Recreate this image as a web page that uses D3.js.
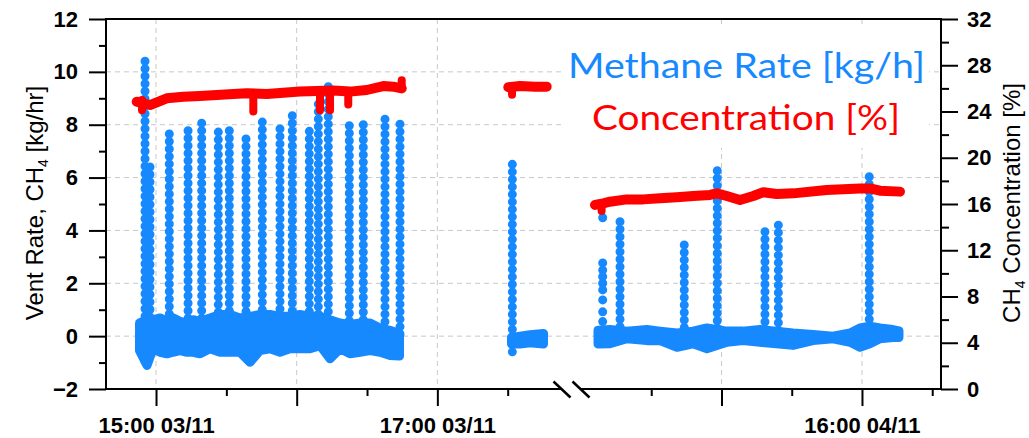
<!DOCTYPE html>
<html>
<head>
<meta charset="utf-8">
<script src="https://cdn.jsdelivr.net/npm/d3@7"></script>
<style>
  body { margin: 0; background: #fff; }
  svg { display: block; }
</style>
</head>
<body>
<svg id="chart" width="1029" height="438"></svg>
<script>
// ---- data ----

// time axis with a break between the two days
const xDomain = ["03/11 14:38:40", "03/11 17:53:10", "04/11 14:00:00", "04/11 16:33:45"];
const majorTimes = ["03/11 15:00:00", "03/11 16:00:00", "03/11 17:00:00", "04/11 15:00:00", "04/11 16:00:00"];
const majorLabels = ["15:00 03/11", "", "17:00 03/11", "", "16:00 04/11"];
const minorTimes = ["03/11 15:30:00", "03/11 16:30:00", "03/11 17:30:00", "04/11 14:30:00", "04/11 15:30:00", "04/11 16:30:00"];

// y ticks
const leftTicks = [-2, 0, 2, 4, 6, 8, 10, 12];
const leftMinor = [-1, 1, 3, 5, 7, 9, 11];
const leftGrid = [0, 2, 4, 6, 8, 10];
const rightTicks = [0, 4, 8, 12, 16, 20, 24, 28, 32];
const rightMinor = [2, 6, 10, 14, 18, 22, 26, 30];

// methane rate, noisy band around zero (upper / lower envelope)
const bandLeftT = ["14:52:58", "14:56:10", "14:58:43", "15:01:43", "15:04:41", "15:07:15", "15:10:14", "15:13:13", "15:15:47",
  "15:18:46", "15:23:02", "15:27:18", "15:31:34", "15:35:50", "15:40:05", "15:44:22", "15:48:37", "15:52:53", "15:57:09",
  "16:01:25", "16:05:41", "16:09:57", "16:14:13", "16:18:29", "16:22:45", "16:27:01", "16:31:17", "16:35:32", "16:39:49", "16:43:52"];
const bandLeftHi = [0.50, 0.62, 0.62, 0.69, 0.56, 0.69, 0.56, 0.50, 0.62, 0.56, 0.69, 0.82, 0.82, 0.69, 0.75, 0.82, 0.82, 0.75, 0.75,
  0.82, 0.75, 0.75, 0.62, 0.50, 0.44, 0.50, 0.50, 0.31, 0.22, 0.10];
const bandLeftLo = [-0.55, -1.11, -0.48, -0.61, -0.67, -0.61, -0.55, -0.61, -0.61, -0.67, -0.48, -0.61, -0.61, -0.61, -0.99, -0.55, -0.48, -0.61, -0.48,
  -0.48, -0.48, -0.36, -0.86, -0.48, -0.67, -0.61, -0.55, -0.61, -0.73, -0.75];

const bandMidT = ["17:31:38", "17:35:16", "17:39:32", "17:45:17"];
const bandMidHi = [-0.05, 0.0, 0.05, 0.1];
const bandMidLo = [-0.3, -0.3, -0.25, -0.3];

const bandRightT = ["14:07:16", "14:12:22", "14:19:36", "14:28:11", "14:33:43", "14:41:00", "14:47:50", "14:53:48", "15:02:21", "15:09:11",
  "15:16:26", "15:30:32", "15:39:04", "15:47:37", "15:54:56", "15:59:09", "16:03:25", "16:07:41", "16:13:14", "16:15:48"];
const bandRightHi = [0.22, 0.25, 0.19, 0.25, 0.19, 0.12, 0.19, 0.31, 0.19, 0.19, 0.25, 0.12, 0.06, 0.00, 0.12, 0.31, 0.38, 0.31, 0.25, 0.20];
const bandRightLo = [-0.30, -0.29, -0.10, -0.17, -0.17, -0.42, -0.29, -0.48, -0.23, -0.17, -0.23, -0.35, -0.17, -0.10, -0.23, -0.42, -0.29, -0.10, -0.05, -0.05];

// methane rate, venting spikes (column of points from base up to top)
const spikeT = ["03/11 14:55:19", "03/11 14:57:26", "03/11 15:05:40", "03/11 15:13:40", "03/11 15:19:29", "03/11 15:26:34", "03/11 15:31:16",
  "03/11 15:38:23", "03/11 15:45:20", "03/11 15:52:53", "03/11 15:58:08", "03/11 16:05:23", "03/11 16:09:14", "03/11 16:13:29",
  "03/11 16:22:27", "03/11 16:28:25", "03/11 16:37:40", "03/11 16:44:04",
  "03/11 17:31:59",
  "04/11 14:16:40", "04/11 14:44:06", "04/11 14:58:12", "04/11 15:18:34", "04/11 15:24:17", "04/11 16:03:07"];
const spikeTop = [10.4, 6.4, 7.65, 7.77, 8.06, 7.72, 7.77, 7.46, 8.1, 7.84, 8.34, 7.75, 8.78, 9.44, 7.96, 8.0, 8.21, 8.02,
  6.5,
  4.33, 3.45, 6.26, 3.95, 4.2, 6.03];
const spikeBase = [-1.0, 0, 0, 0, 0, 0, 0, 0, 0, 0, 0, 0, 0, 0, 0, 0, 0, 0,
  -0.82,
  0, -0.4, 0, 0, 0, 0];

// loose points at the start of the second day
const looseT = "04/11 14:09:16";
const looseV = [4.48, 2.77, 2.5, 2.25, 2.0, 1.75, 1.37, 0.92, 0.55];

// CH4 concentration [%]
const concLeftT = ["14:51:46", "14:57:26", "15:04:34", "15:11:38", "15:18:46", "15:25:53", "15:32:58", "15:38:41", "15:47:13",
  "15:54:18", "16:01:25", "16:08:32", "16:15:38", "16:22:45", "16:29:52", "16:36:57", "16:41:13", "16:44:48"];
const concLeftV = [24.85, 24.56, 25.14, 25.28, 25.34, 25.43, 25.52, 25.57, 25.52, 25.63, 25.72, 25.78, 25.81, 25.72, 25.86, 26.2, 26.15, 26.0];
const concMidT = ["17:30:16", "17:35:16", "17:41:40", "17:46:38"];
const concMidV = [26.1, 26.2, 26.15, 26.15];
const concRightT = ["14:05:59", "14:09:30", "14:12:22", "14:19:30", "14:26:36", "14:33:43", "14:40:53", "14:47:58", "14:55:05", "14:57:59",
  "15:02:16", "15:07:54", "15:13:35", "15:17:53", "15:23:35", "15:30:40", "15:44:55", "15:59:09", "16:03:25", "16:07:41", "16:16:14"];
const concRightV = [15.92, 16.06, 16.2, 16.4, 16.4, 16.49, 16.58, 16.69, 16.78, 16.92, 16.69, 16.35, 16.69, 17.02, 16.86, 16.92, 17.21, 17.35, 17.35, 17.15, 17.07];

// short excursions of the concentration trace
const dipT = ["03/11 14:54:02", "03/11 15:41:30", "03/11 16:09:57", "03/11 16:14:13", "03/11 16:22:00", "03/11 16:44:48", "03/11 17:31:51", "04/11 14:08:48"];
const dipLow = [24.1, 24.0, 24.1, 24.1, 24.6, 26.0, 25.45, 15.4];
const dipHigh = [25.0, 25.5, 25.7, 25.8, 25.7, 26.7, 26.1, 16.0];

const legendLabels = ["Methane Rate [kg/h]", "Concentration [%]"];

// ---- drawing ----
const svg = d3.select("#chart");
const m = { left: 106, right: 941, top: 19, bottom: 389 };
const blue = "#1789ff", red = "#ff0000";
const axisFont = "'Liberation Sans', Arial, sans-serif";

const parse = d3.timeParse("%d/%m %H:%M:%S");
const x = d3.scaleTime().domain(xDomain.map(parse)).range([m.left, 562, 581, m.right]);
const yL = d3.scaleLinear().domain([-2, 12]).range([m.bottom, m.top]);
const yR = d3.scaleLinear().domain([0, 32]).range([m.bottom, m.top]);

// grid
const grid = svg.append("g").attr("stroke", "#c8c8c8").attr("stroke-width", 1).attr("stroke-dasharray", "5,4");
grid.selectAll(".gh").data(leftGrid).join("line")
  .attr("x1", m.left).attr("x2", m.right)
  .attr("y1", d => yL(d)).attr("y2", d => yL(d));
grid.selectAll(".gv").data(majorTimes).join("line")
  .attr("x1", d => x(parse(d))).attr("x2", d => x(parse(d)))
  .attr("y1", m.top).attr("y2", m.bottom);

// legend box (hides the grid behind the text)
svg.append("rect").attr("x", 565).attr("y", 28).attr("width", 364).attr("height", 120).attr("fill", "#fff");

// methane band
const area = d3.area().x(d => x(d.t)).y0(d => yL(d.lo)).y1(d => yL(d.hi));
const rows = (day, T, hi, lo) => T.map((t, i) => ({ t: parse(day + " " + t), hi: hi[i], lo: lo[i] }));
const bands = [
  rows("03/11", bandLeftT, bandLeftHi, bandLeftLo),
  rows("03/11", bandMidT, bandMidHi, bandMidLo),
  rows("04/11", bandRightT, bandRightHi, bandRightLo)
];
svg.append("g").selectAll("path").data(bands).join("path")
  .attr("d", area)
  .attr("fill", blue).attr("stroke", blue)
  .attr("stroke-width", 9).attr("stroke-linejoin", "round");

// methane spikes, drawn as beaded columns
const spikes = spikeT.map((t, i) => ({ t: parse(t), top: spikeTop[i], base: spikeBase[i] }));
svg.append("g").selectAll("line").data(spikes).join("line")
  .attr("x1", d => x(d.t)).attr("x2", d => x(d.t))
  .attr("y1", d => yL(d.top)).attr("y2", d => yL(d.base))
  .attr("stroke", blue).attr("stroke-width", 9)
  .attr("stroke-linecap", "round").attr("stroke-dasharray", "0 7.5");

svg.append("g").selectAll("circle").data(looseV).join("circle")
  .attr("cx", x(parse(looseT))).attr("cy", d => yL(d)).attr("r", 4.5)
  .attr("fill", blue);

// concentration trace
const line = d3.line().x(d => x(d.t)).y(d => yR(d.v));
const crow = (day, T, V) => T.map((t, i) => ({ t: parse(day + " " + t), v: V[i] }));
const traces = [
  crow("03/11", concLeftT, concLeftV),
  crow("03/11", concMidT, concMidV),
  crow("04/11", concRightT, concRightV)
];
svg.append("g").selectAll("path").data(traces).join("path")
  .attr("d", line)
  .attr("fill", "none").attr("stroke", red).attr("stroke-width", 10)
  .attr("stroke-linecap", "round").attr("stroke-linejoin", "round");
svg.append("g").selectAll("line").data(dipT).join("line")
  .attr("x1", d => x(parse(d))).attr("x2", d => x(parse(d)))
  .attr("y1", (d, i) => yR(dipLow[i])).attr("y2", (d, i) => yR(dipHigh[i]))
  .attr("stroke", red).attr("stroke-width", 8).attr("stroke-linecap", "round");

// legend text
const legFont = "Lato, 'Open Sans', sans-serif";
svg.append("text").attr("x", 568).attr("y", 78).attr("font-family", legFont).attr("font-size", 35)
  .attr("fill", blue).attr("textLength", 357).attr("lengthAdjust", "spacingAndGlyphs").text(legendLabels[0]);
svg.append("text").attr("x", 592).attr("y", 130).attr("font-family", legFont).attr("font-size", 35)
  .attr("fill", red).attr("textLength", 308).attr("lengthAdjust", "spacingAndGlyphs").text(legendLabels[1]);

// axes
function styleAxis(g) {
  g.select(".domain").remove();
  g.selectAll("line").attr("stroke", "#000").attr("stroke-width", 2);
  g.selectAll("text").attr("font-family", axisFont).attr("font-size", 22).attr("font-weight", "bold").attr("fill", "#000");
}
svg.append("g").attr("transform", `translate(${m.left},0)`)
  .call(d3.axisLeft(yL).tickValues(leftTicks).tickSize(17).tickPadding(11)).call(styleAxis);
svg.append("g").attr("transform", `translate(${m.left},0)`)
  .call(d3.axisLeft(yL).tickValues(leftMinor).tickSize(7).tickFormat("")).call(styleAxis);
svg.append("g").attr("transform", `translate(${m.right},0)`)
  .call(d3.axisRight(yR).tickValues(rightTicks).tickSize(17).tickPadding(9)).call(styleAxis);
svg.append("g").attr("transform", `translate(${m.right},0)`)
  .call(d3.axisRight(yR).tickValues(rightMinor).tickSize(8).tickFormat("")).call(styleAxis);
svg.append("g").attr("transform", `translate(0,${m.bottom})`)
  .call(d3.axisBottom(x).tickValues(majorTimes.map(parse)).tickSize(17).tickPadding(11)
    .tickFormat((d, i) => majorLabels[i])).call(styleAxis);
svg.append("g").attr("transform", `translate(0,${m.bottom})`)
  .call(d3.axisBottom(x).tickValues(minorTimes.map(parse)).tickSize(7).tickFormat("")).call(styleAxis);

// frame, bottom line split at the break
const bx0 = x(parse(xDomain[1])), bx1 = x(parse(xDomain[2]));
const frame = svg.append("g").attr("stroke", "#000").attr("stroke-width", 2).attr("fill", "none");
frame.append("path").attr("d", `M${m.left},${m.bottom}V${m.top}H${m.right}V${m.bottom}`);
frame.append("path").attr("d", `M${m.left - 1},${m.bottom}H${bx0}M${bx1},${m.bottom}H${m.right + 1}`);
frame.selectAll(".brk").data([bx0, bx1]).join("line")
  .attr("x1", d => d - 8.5).attr("y1", m.bottom - 7.5)
  .attr("x2", d => d + 8.5).attr("y2", m.bottom + 8.5)
  .attr("stroke-width", 2.5);

// axis titles
const tl = svg.append("text").attr("transform", "translate(43,203) rotate(-90)")
  .attr("text-anchor", "middle").attr("font-family", axisFont).attr("font-size", 24).attr("fill", "#000");
tl.append("tspan").text("Vent Rate, CH");
tl.append("tspan").attr("font-size", 14).attr("dy", 5).text("4");
tl.append("tspan").attr("dy", -5).text(" [kg/hr]");

const tr = svg.append("text").attr("transform", "translate(1020,203) rotate(-90)")
  .attr("text-anchor", "middle").attr("font-family", axisFont).attr("font-size", 24).attr("fill", "#000");
tr.append("tspan").text("CH");
tr.append("tspan").attr("font-size", 14).attr("dy", 5).text("4");
tr.append("tspan").attr("dy", -5).text(" Concentration [%]");
</script>
</body>
</html>
